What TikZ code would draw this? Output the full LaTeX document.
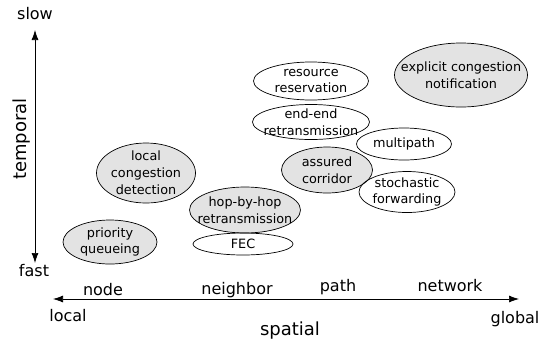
\documentclass[tikz,border=0pt]{standalone}
\usepackage{fontspec}
\setmainfont{DejaVu Sans}
\usetikzlibrary{shapes.geometric,arrows.meta}

\begin{document}
\begin{tikzpicture}[x=1pt,y=1pt,
  txt/.style={align=center,inner sep=0pt,font=\fontsize{12.8}{16.8}\selectfont},
  mech/.style={ellipse,draw,line width=0.7pt,inner sep=0pt,label={[txt]center:#1}},
  grey/.style={mech=#1,fill=black!11},
  ax/.style={font=\fontsize{16}{18}\selectfont},
  big/.style={font=\fontsize{18}{20}\selectfont},
  axis/.style={{Latex[length=10pt,width=7pt]}-{Latex[length=10pt,width=7pt]},line width=0.7pt}]
\useasboundingbox (0,0) rectangle (540,-346);
% axes
\node [ax] (s) at (35,-14) {slow};
\node [ax] (f) at (34,-271) {fast};
\node [big,rotate=90] (t) at (22,-139) {temporal};
\coordinate (yt) at (35,-30);
\coordinate (yb) at (35,-263);
\draw [axis] (yt) -- (yb);
\node [ax] (l) at (68,-316) {local};
\node [ax] (g) at (515,-319) {global};
\node [big] (sp) at (290,-331) {spatial};
\coordinate (xl) at (53,-299);
\coordinate (xr) at (519,-299);
\draw [axis] (xl) -- (xr);
\node [ax] (n1) at (103,-290) {node};
\node [ax] (n2) at (237,-290) {neighbor};
\node [ax] (n3) at (338,-287) {path};
\node [ax] (n4) at (450,-286) {network};
% mechanisms
\node [grey={local\\congestion\\detection},minimum width=99,minimum height=60] (a) at (146,-173) {};
\node [grey={priority\\queueing},minimum width=94,minimum height=44] (b) at (110,-242) {};
\node [grey={hop-by-hop\\retransmission},minimum width=111,minimum height=46] (c) at (245,-210) {};
\node [mech={FEC},minimum width=100,minimum height=22] (d) at (243,-244) {};
\node [mech={resource\\reservation},minimum width=115,minimum height=38] (e) at (311,-81) {};
\node [mech={end-end\\retransmission},minimum width=117,minimum height=35] (h) at (311,-122) {};
\node [mech={multipath},minimum width=95,minimum height=32] (i) at (404,-144) {};
\node [grey={assured\\corridor},minimum width=91,minimum height=46] (j) at (327,-170) {};
\node [mech={stochastic\\forwarding},minimum width=96,minimum height=41] (k) at (407,-192) {};
\node [grey={explicit congestion\\notification},minimum width=133,minimum height=64] (m) at (461,-75) {};
\end{tikzpicture}
\end{document}
